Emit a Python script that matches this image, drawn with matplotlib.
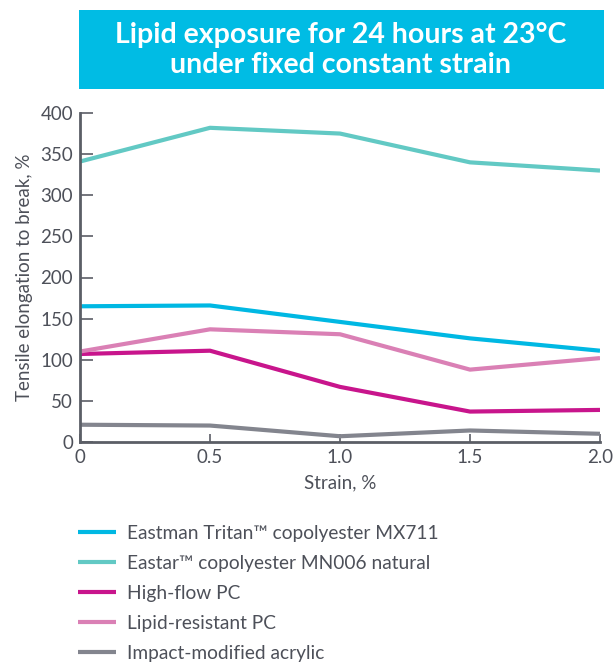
import matplotlib
matplotlib.use("Agg")
import matplotlib.pyplot as plt
from matplotlib.patches import Rectangle

plt.rcParams['font.family'] = ['Lato', 'DejaVu Sans']

strain = [0, 0.5, 1.0, 1.5, 2.0]
tritan = [165, 166, 146, 126, 111]
eastar = [341, 382, 375, 340, 330]
highflow_pc = [107, 111, 67, 37, 39]
lipid_pc = [110, 137, 131, 88, 102]
acrylic = [21, 20, 7, 14, 10]

series_names = [
    "Eastman Tritan\u2122 copolyester MX711",
    "Eastar\u2122 copolyester MN006 natural",
    "High-flow PC",
    "Lipid-resistant PC",
    "Impact-modified acrylic",
]
series_values = [tritan, eastar, highflow_pc, lipid_pc, acrylic]
colors = ["#00B8E3", "#62C9C4", "#C8158C", "#DA80B5", "#83858E"]

xticks = [0, 0.5, 1.0, 1.5, 2.0]
xticklabels = ["0", "0.5", "1.0", "1.5", "2.0"]
yticks = [0, 50, 100, 150, 200, 250, 300, 350, 400]

title = "Lipid exposure for 24 hours at 23\u00b0C\nunder fixed constant strain"

W, H = 616, 663
fig = plt.figure(figsize=(W / 100, H / 100), dpi=100)

# title box
fig.patches.append(Rectangle((79 / W, 1 - 89 / H), (604 - 79) / W, 79 / H,
                             transform=fig.transFigure, facecolor="#00BCE4",
                             edgecolor="none"))
fig.text(341 / W, 1 - 50 / H, title, ha="center", va="center", color="white",
         fontsize=20.5, fontweight="bold", linespacing=1.15)

ax = fig.add_axes([80 / W, 1 - 442 / H, (600 - 80) / W, (442 - 113) / H])
axis_col = "#5B5E66"
text_col = "#4D5059"

for name, vals, c in zip(series_names, series_values, colors):
    ax.plot(strain, vals, color=c, lw=3, label=name, solid_capstyle="butt")

ax.set_xlim(0, 2.0)
ax.set_ylim(0, 400)
ax.set_xticks(xticks)
ax.set_xticklabels(xticklabels)
ax.set_yticks(yticks)
for s in ["top", "right"]:
    ax.spines[s].set_visible(False)
for s in ["left", "bottom"]:
    ax.spines[s].set_color(axis_col)
    ax.spines[s].set_linewidth(2)
ax.tick_params(axis="y", direction="in", length=9, width=1.2, colors=axis_col,
               labelcolor=text_col, labelsize=13.5, pad=5)
ax.tick_params(axis="x", direction="in", length=6, width=1.2, colors=axis_col,
               labelcolor=text_col, labelsize=13.5, pad=5)
ax.set_xlabel("Strain, %", color=text_col, fontsize=13.5, labelpad=6)
ax.set_ylabel("Tensile elongation to break, %", color=text_col, fontsize=13.5, labelpad=5)

handles, labels = ax.get_legend_handles_labels()
fig.legend(handles, labels, loc="upper left", bbox_to_anchor=(70 / W, 1 - 517 / H),
           frameon=False, fontsize=13.8, handlelength=2.0, handletextpad=0.55,
           labelspacing=0.68, labelcolor=text_col, borderaxespad=0)

fig.savefig("out.png", dpi=100)
